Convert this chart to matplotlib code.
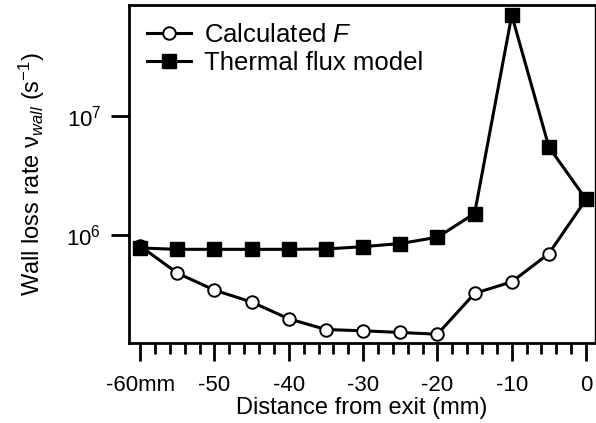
import matplotlib
matplotlib.use("Agg")
import matplotlib.pyplot as plt
from matplotlib.ticker import FixedLocator, NullLocator, MultipleLocator

plt.rcParams['font.family'] = ['Liberation Sans', 'DejaVu Sans']
plt.rcParams['mathtext.fontset'] = 'custom'
plt.rcParams['mathtext.rm'] = 'Liberation Sans'
plt.rcParams['mathtext.it'] = 'Liberation Sans:italic'

distance = [-60, -55, -50, -45, -40, -35, -30, -25, -20, -15, -10, -5, 0]
calculated_F = [8.1e5, 4.8e5, 3.45e5, 2.74e5, 1.98e5, 1.61e5, 1.57e5, 1.52e5, 1.47e5, 3.24e5, 4.05e5, 7.0e5, 2.0e6]
thermal_flux = [7.8e5, 7.6e5, 7.6e5, 7.6e5, 7.6e5, 7.65e5, 8.0e5, 8.5e5, 9.6e5, 1.52e6, 7.06e7, 5.5e6, 2.0e6]
x_ticks = [-60, -50, -40, -30, -20, -10, 0]
x_ticklabels = ['-60mm', '-50', '-40', '-30', '-20', '-10', '0']
y_ticks = [1e6, 1e7]
y_ticklabels = [r'$10^{6}$', r'$10^{7}$']

fig = plt.figure(figsize=(5.96, 4.23), dpi=100)
ax = fig.add_axes([129/596, 1-343/423, (595-129)/596, (343-5)/423])

ax.plot(distance, calculated_F, '-o', color='black', lw=2.2, markersize=9,
        markerfacecolor='white', markeredgewidth=1.4, label=r'Calculated $\mathit{F}$', zorder=3)
ax.plot(distance, thermal_flux, '-s', color='black', lw=2.2, markersize=9.5,
        label='Thermal flux model', zorder=4)

ax.set_yscale('log')
ax.set_xlim(-61.5, 1.2)
ax.set_ylim(1.24e5, 8.6e7)

ax.xaxis.set_major_locator(FixedLocator(x_ticks))
ax.set_xticklabels(x_ticklabels)
ax.xaxis.set_minor_locator(MultipleLocator(2))
ax.yaxis.set_major_locator(FixedLocator(y_ticks))
ax.set_yticklabels(y_ticklabels)
ax.yaxis.set_minor_locator(NullLocator())

for s in ax.spines.values():
    s.set_linewidth(2)
ax.spines['right'].set_linewidth(1)

ax.tick_params(axis='x', which='major', direction='out', length=13, width=2, labelsize=16, pad=10)
ax.tick_params(axis='x', which='minor', direction='out', length=8, width=2)
ax.tick_params(axis='y', which='major', direction='out', length=13, width=2, labelsize=16, pad=7)

ax.set_xlabel('Distance from exit (mm)', fontsize=17, labelpad=1)
ax.set_ylabel(r'Wall loss rate ν$_{\mathit{wall}}$ (s$^{-1}$)', fontsize=17, labelpad=14)

ax.legend(loc='upper left', frameon=False, fontsize=18.5, handlelength=1.7,
          handletextpad=0.5, borderaxespad=0.3, labelspacing=0.15, bbox_to_anchor=(0.0, 1.0))

fig.savefig('out.png', dpi=100)
